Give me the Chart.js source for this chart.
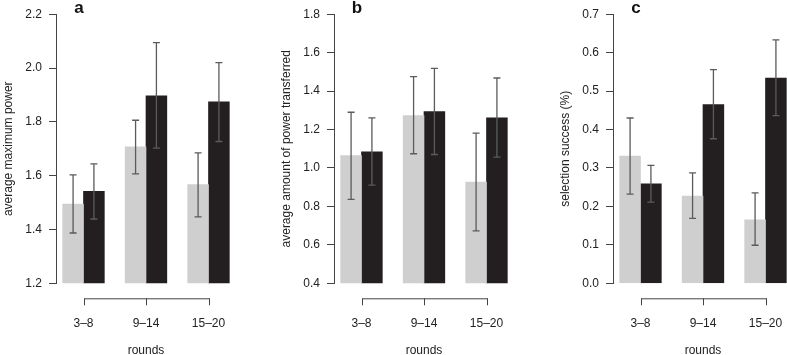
<!DOCTYPE html>
<html>
<head>
    <meta charset="UTF-8">
    <script src="https://cdn.jsdelivr.net/npm/chart.js"></script>
    <style>
        body { margin: 0; background: #fff; overflow: hidden; }
        #wrap { position: relative; width: 787px; height: 355px; overflow: hidden; }
        .panel { position: absolute; top: 0; width: 279px; height: 355px; }
        .panel canvas { display: block; }
    </style>
</head>
<body>
<div id="wrap">
    <div class="panel" style="left:0px"><canvas id="chartA"></canvas></div>
    <div class="panel" style="left:278px"><canvas id="chartB"></canvas></div>
    <div class="panel" style="left:557px"><canvas id="chartC"></canvas></div>
</div>
<script>
    const categories = ['3\u20138', '9\u201314', '15\u201320'];

    // panel a: average maximum power
    const lightA = [1.494, 1.707, 1.567];
    const lightALo = [1.387, 1.607, 1.447];
    const lightAHi = [1.603, 1.806, 1.685];
    const darkA = [1.542, 1.897, 1.874];
    const darkALo = [1.439, 1.702, 1.727];
    const darkAHi = [1.644, 2.094, 2.020];
    const ticksA = [1.2, 2.2, 0.2];

    // panel b: average amount of power transferred
    const lightB = [1.065, 1.273, 0.927];
    const lightBLo = [0.837, 1.074, 0.673];
    const lightBHi = [1.290, 1.475, 1.181];
    const darkB = [1.084, 1.293, 1.261];
    const darkBLo = [0.911, 1.070, 1.056];
    const darkBHi = [1.261, 1.518, 1.468];
    const ticksB = [0.4, 1.8, 0.2];

    // panel c: selection success
    const lightC = [0.331, 0.227, 0.165];
    const lightCLo = [0.232, 0.169, 0.099];
    const lightCHi = [0.430, 0.287, 0.235];
    const darkC = [0.259, 0.465, 0.534];
    const darkCLo = [0.211, 0.376, 0.436];
    const darkCHi = [0.307, 0.556, 0.633];
    const ticksC = [0.0, 0.7, 0.1];

    Chart.defaults.font.family = '"Liberation Sans", Arial, sans-serif';
    Chart.defaults.font.size = 12;
    Chart.defaults.color = '#222';

    const axisColor = '#444';

    // R style error bars with caps at both ends
    const errorBars = {
        id: 'errorBars',
        afterDatasetsDraw(chart) {
            const ctx = chart.ctx;
            const y = chart.scales.y;
            ctx.save();
            ctx.strokeStyle = '#5b5b5b';
            ctx.lineWidth = 1.3;
            chart.data.datasets.forEach((ds, di) => {
                chart.getDatasetMeta(di).data.forEach((bar, i) => {
                    const x = bar.x;
                    const y1 = y.getPixelForValue(ds.lo[i]);
                    const y2 = y.getPixelForValue(ds.hi[i]);
                    ctx.beginPath();
                    ctx.moveTo(x, y1); ctx.lineTo(x, y2);
                    ctx.moveTo(x - 3.5, y1); ctx.lineTo(x + 3.5, y1);
                    ctx.moveTo(x - 3.5, y2); ctx.lineTo(x + 3.5, y2);
                    ctx.stroke();
                });
            });
            ctx.restore();
        }
    };

    // bracket-shaped x axis line under the plot, plus panel letter
    const decorations = {
        id: 'decorations',
        afterDraw(chart, args, opts) {
            const ctx = chart.ctx;
            const xs = chart.scales.x;
            const area = chart.chartArea;
            const t = xs.ticks;
            const yLine = area.bottom + 15;
            ctx.save();
            ctx.strokeStyle = axisColor;
            ctx.lineWidth = 1;
            ctx.beginPath();
            const x0 = Math.round(xs.getPixelForValue(t[0].value)) + 0.5;
            const x1 = Math.round(xs.getPixelForValue(t[t.length - 1].value)) + 0.5;
            ctx.moveTo(x0, yLine + 0.5); ctx.lineTo(x1, yLine + 0.5);
            t.forEach(tk => {
                const px = Math.round(xs.getPixelForValue(tk.value)) + 0.5;
                ctx.moveTo(px, yLine); ctx.lineTo(px, yLine + 7);
            });
            ctx.stroke();
            ctx.fillStyle = '#111';
            ctx.font = 'bold 17px "Liberation Sans", Arial, sans-serif';
            ctx.textAlign = 'center';
            ctx.textBaseline = 'alphabetic';
            ctx.fillText(opts.letter, area.left + 23, 13);
            ctx.restore();
        }
    };

    function makePanel(id, letter, yTitle, light, lightLo, lightHi, dark, darkLo, darkHi, yTicks) {
        const ctx = document.getElementById(id).getContext('2d');
        return new Chart(ctx, {
            type: 'bar',
            data: {
                datasets: [{
                    label: 'light',
                    data: light.map((v, i) => ({ x: i * 3 + 1.5, y: v })),
                    lo: lightLo,
                    hi: lightHi,
                    backgroundColor: '#cfcfcf'
                }, {
                    label: 'dark',
                    data: dark.map((v, i) => ({ x: i * 3 + 2.5, y: v })),
                    lo: darkLo,
                    hi: darkHi,
                    backgroundColor: '#231f20'
                }]
            },
            options: {
                responsive: false,
                animation: false,
                events: [],
                layout: { padding: { top: 13.3, right: 43, left: 0, bottom: 0 } },
                datasets: { bar: { grouped: false, barThickness: 20.83, borderWidth: 0 } },
                plugins: {
                    legend: { display: false },
                    tooltip: { enabled: false },
                    decorations: { letter: letter }
                },
                scales: {
                    x: {
                        type: 'linear',
                        offset: false,
                        min: 0.68,
                        max: 9.32,
                        afterBuildTicks: s => { s.ticks = categories.map((c, i) => ({ value: i * 3 + 2 })); },
                        afterFit: s => { s.height = 71.7; },
                        grid: { display: false, drawTicks: false, offset: false },
                        border: { display: false },
                        ticks: {
                            autoSkip: false,
                            maxRotation: 0,
                            padding: 33,
                            color: '#222',
                            callback: v => categories[Math.round((v - 2) / 3)]
                        },
                        title: {
                            display: true,
                            text: 'rounds',
                            color: '#222',
                            font: { size: 12, lineHeight: 1 },
                            padding: { top: 0, bottom: -2 }
                        }
                    },
                    y: {
                        min: yTicks[0],
                        max: yTicks[1],
                        afterFit: s => { s.width = 56; },
                        grid: { drawOnChartArea: false, tickLength: 7, color: axisColor },
                        border: { display: true, color: axisColor, width: 1 },
                        ticks: {
                            stepSize: yTicks[2],
                            padding: 7,
                            color: '#222',
                            callback: v => v.toFixed(1)
                        },
                        title: {
                            display: true,
                            text: yTitle,
                            color: '#222',
                            font: { size: 12 },
                            padding: { top: 1, bottom: 0 }
                        }
                    }
                }
            },
            plugins: [errorBars, decorations]
        });
    }

    function sizeCanvas(id) {
        const c = document.getElementById(id);
        c.width = 279; c.height = 355;
        c.style.width = '279px'; c.style.height = '355px';
    }
    ['chartA', 'chartB', 'chartC'].forEach(sizeCanvas);

    makePanel('chartA', 'a', 'average maximum power', lightA, lightALo, lightAHi, darkA, darkALo, darkAHi, ticksA);
    makePanel('chartB', 'b', 'average amount of power transferred', lightB, lightBLo, lightBHi, darkB, darkBLo, darkBHi, ticksB);
    makePanel('chartC', 'c', 'selection success (%)', lightC, lightCLo, lightCHi, darkC, darkCLo, darkCHi, ticksC);
</script>
</body>
</html>
